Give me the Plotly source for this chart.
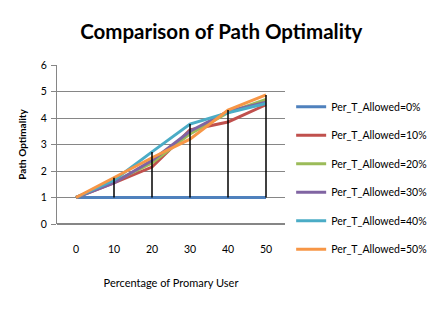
import plotly.graph_objects as go

categories = ["0", "10", "20", "30", "40", "50"]
series_names = ["Per_T_Allowed=0%", "Per_T_Allowed=10%", "Per_T_Allowed=20%",
                "Per_T_Allowed=30%", "Per_T_Allowed=40%", "Per_T_Allowed=50%"]
allowed_0 = [1, 1, 1, 1, 1, 1]
allowed_10 = [1, 1.55, 2.15, 3.55, 3.85, 4.5]
allowed_20 = [1, 1.6, 2.3, 3.4, 4.2, 4.7]
allowed_30 = [1, 1.55, 2.4, 3.5, 4.25, 4.6]
allowed_40 = [1, 1.65, 2.72, 3.77, 4.2, 4.55]
allowed_50 = [1, 1.75, 2.5, 3.2, 4.3, 4.87]
all_series = [allowed_0, allowed_10, allowed_20, allowed_30, allowed_40, allowed_50]
colors = ["#4F81BD", "#C0504D", "#9BBB59", "#8064A2", "#4BACC6", "#F79646"]

FONT = "Lato"

fig = go.Figure()
for i, (name, vals, col) in enumerate(zip(series_names, all_series, colors)):
    fig.add_trace(go.Scatter(x=categories, y=vals, mode="lines", name=name,
                             line=dict(color=col, width=3), legendgroup=str(i)))

# high-low lines across series at each category
hl_x, hl_y = [], []
for j, c in enumerate(categories):
    col_vals = [s[j] for s in all_series]
    lo, hi = min(col_vals), max(col_vals)
    if hi > lo:
        hl_x += [c, c, None]
        hl_y += [lo, hi, None]
fig.add_trace(go.Scatter(x=hl_x, y=hl_y, mode="lines", showlegend=False,
                         line=dict(color="black", width=1.5), hoverinfo="skip"))

fig.update_layout(
    width=447, height=309,
    margin=dict(l=57, r=162, t=65, b=85, autoexpand=False),
    paper_bgcolor="white", plot_bgcolor="white",
    font=dict(family=FONT, size=9, color="#000000"),
    title=dict(text="<b>Comparison of Path Optimality</b>", x=0.495, xanchor="center",
               y=0.898, yanchor="middle", font=dict(family=FONT, size=20.5, color="black")),
    showlegend=True,
    legend=dict(x=1.027, xanchor="left", y=0.828, yanchor="top",
                traceorder="grouped", tracegroupgap=9.5, maxheight=300,
                font=dict(family=FONT, size=10.5, color="black"),
                bgcolor="rgba(0,0,0,0)", itemwidth=30),
)
fig.update_xaxes(type="category", range=[-0.5, 5.5], showgrid=False,
                 showline=False, ticks="", tickfont=dict(size=10.5), ticklabelstandoff=17,
                 title=dict(text="Percentage of Promary User", font=dict(size=11), standoff=25))
fig.update_yaxes(range=[0, 6], dtick=1, showgrid=True, gridcolor="#868686", gridwidth=1,
                 showline=True, linecolor="#868686", ticks="outside", ticklen=5,
                 tickcolor="#868686", zeroline=True, zerolinecolor="#868686",
                 tickfont=dict(size=10.5), ticklabelstandoff=2,
                 title=dict(text="<b>Path Optimality</b>", font=dict(size=10), standoff=12))

fig.write_html("out.html", config={"displayModeBar": False},
               post_script="document.body.style.margin='0px';")
